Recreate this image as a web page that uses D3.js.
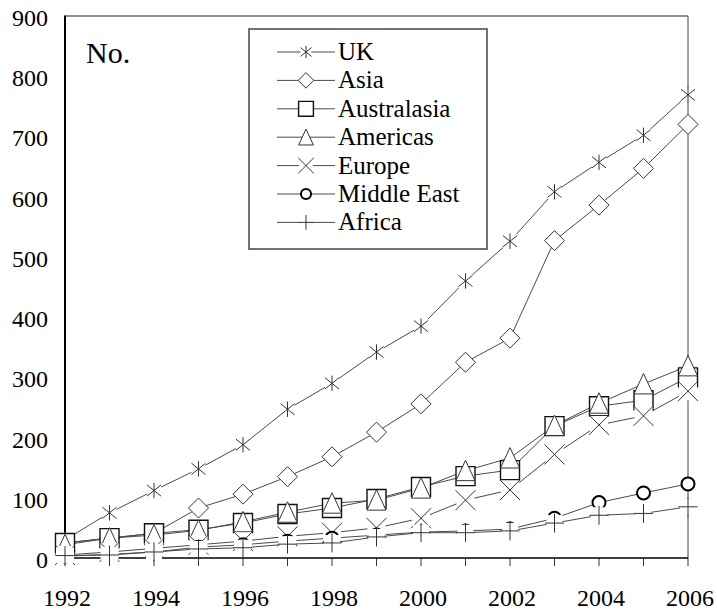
<!DOCTYPE html>
<html>
<head>
<meta charset="utf-8">
<script src="https://cdn.jsdelivr.net/npm/d3@7"></script>
<style>
body { margin: 0; background: #fff; }
</style>
</head>
<body>
<svg width="717" height="613"></svg>
<script>
var years = [1992, 1993, 1994, 1995, 1996, 1997, 1998, 1999, 2000, 2001, 2002, 2003, 2004, 2005, 2006];
var yearLabels = [1992, 1994, 1996, 1998, 2000, 2002, 2004, 2006];
var yTicks = [0, 100, 200, 300, 400, 500, 600, 700, 800, 900];

var uk          = [30, 75, 112, 148, 188, 247, 290, 342, 385, 460, 526, 608, 657, 702, 769];
var asia        = [25, 33, 41, 83, 106, 135, 168, 209, 256, 325, 365, 527, 586, 647, 720];
var australasia = [25, 33, 41, 47, 58, 73, 83, 98, 118, 136, 146, 219, 252, 262, 300];
var americas    = [22, 33, 38, 46, 60, 76, 91, 96, 116, 145, 166, 220, 257, 289, 319];
var europe      = [5, 10, 16, 22, 28, 36, 42, 50, 66, 96, 113, 172, 221, 236, 277];
var middleEast  = [3, 6, 10, 18, 22, 28, 33, 38, 43, 45, 48, 66, 92, 108, 123];
var africa      = [4, 5, 10, 15, 17, 23, 25, 35, 42, 42, 45, 58, 71, 74, 85];

var series = [
  {name: "UK", values: uk, shape: "asterisk"},
  {name: "Asia", values: asia, shape: "diamond"},
  {name: "Australasia", values: australasia, shape: "square"},
  {name: "Americas", values: americas, shape: "triangle"},
  {name: "Europe", values: europe, shape: "x"},
  {name: "Middle East", values: middleEast, shape: "circle"},
  {name: "Africa", values: africa, shape: "plus"}
];

var svg = d3.select("svg");
var serif = "'Times New Roman', 'Liberation Serif', 'DejaVu Serif', serif";
var plotLeft = 65, plotRight = 688, plotTop = 16, plotBottom = 558;

var x = d3.scaleLinear().domain([1992, 2006]).range([plotLeft, plotRight]);
var y = d3.scaleLinear().domain([0, 900]).range([plotBottom, plotTop]);

// marker outlines, h = half size
var shapes = {
  asterisk: function(h) {
    return "M0," + (-h * 1.1) + "V" + (h * 1.1) +
      "M" + (-h) + "," + (-h * 0.8) + "L" + h + "," + (h * 0.8) +
      "M" + (-h) + "," + (h * 0.8) + "L" + h + "," + (-h * 0.8);
  },
  diamond: function(h) {
    return "M0," + (-h) + "L" + h + ",0L0," + h + "L" + (-h) + ",0Z";
  },
  square: function(h) {
    return "M" + (-h) + "," + (-h) + "H" + h + "V" + h + "H" + (-h) + "Z";
  },
  triangle: function(h) {
    return "M0," + (-h * 1.1) + "L" + h + "," + (h * 1.05) + "L" + (-h) + "," + (h * 1.05) + "Z";
  },
  x: function(h) {
    return "M" + (-h) + "," + (-h) + "L" + h + "," + h + "M" + (-h) + "," + h + "L" + h + "," + (-h);
  },
  circle: function(h) {
    return "M" + h + ",0A" + h + "," + h + " 0 1,1 " + (-h) + ",0A" + h + "," + h + " 0 1,1 " + h + ",0Z";
  },
  plus: function(h) {
    return "M0," + (-h) + "V" + h + "M" + (-h) + ",0H" + h;
  }
};
var sizes = {asterisk: 7, diamond: 10, square: 9.5, triangle: 9.5, x: 10, circle: 6.5, plus: 9.5};
var halo = {asterisk: 7, x: 9, plus: 8};

function drawMarker(g, shape, k) {
  var h = sizes[shape] * k;
  if (halo[shape]) {
    var hh = halo[shape] * k;
    g.append("rect").attr("x", -hh).attr("y", -hh).attr("width", 2 * hh).attr("height", 2 * hh)
      .attr("fill", "#fff");
  }
  var p = g.append("path").attr("d", shapes[shape](h))
    .attr("fill", halo[shape] ? "none" : "#fff")
    .attr("stroke", "#333")
    .attr("stroke-width", 1);
  if (shape == "square") p.attr("stroke", "#111").attr("stroke-width", 1.4);
  if (shape == "circle") p.attr("stroke", "#000").attr("stroke-width", 2);
}

// frame
svg.append("line").attr("x1", plotLeft).attr("x2", plotRight).attr("y1", plotTop).attr("y2", plotTop)
  .attr("stroke", "#222").attr("stroke-width", 1);
svg.append("line").attr("x1", plotRight).attr("x2", plotRight).attr("y1", plotTop).attr("y2", plotBottom)
  .attr("stroke", "#444").attr("stroke-width", 1);

// x axis
svg.append("g").selectAll("line").data(years).enter().append("line")
  .attr("x1", function(d) { return x(d); }).attr("x2", function(d) { return x(d); })
  .attr("y1", plotBottom).attr("y2", plotBottom + 8)
  .attr("stroke", "#333").attr("stroke-width", 1);
svg.append("line").attr("x1", plotLeft).attr("x2", plotRight).attr("y1", plotBottom).attr("y2", plotBottom)
  .attr("stroke", "#000").attr("stroke-width", 1.5);
svg.append("line").attr("x1", plotLeft).attr("x2", plotLeft).attr("y1", plotTop - 0.5).attr("y2", plotBottom)
  .attr("stroke", "#000").attr("stroke-width", 2);

svg.append("g").selectAll("text").data(yearLabels).enter().append("text")
  .attr("x", function(d) { return x(d) + 2; })
  .attr("y", 606)
  .attr("text-anchor", "middle")
  .style("font-family", serif)
  .attr("font-size", 24)
  .text(function(d) { return d; });

svg.append("g").selectAll("text").data(yTicks).enter().append("text")
  .attr("x", 48)
  .attr("y", function(d) { return y(d) + 10; })
  .attr("text-anchor", "end")
  .style("font-family", serif)
  .attr("font-size", 24)
  .text(function(d) { return d; });

svg.append("text").attr("x", 86).attr("y", 63)
  .style("font-family", serif).attr("font-size", 30).text("No.");

// lines
var line = d3.line()
  .x(function(d, i) { return x(years[i]); })
  .y(function(d) { return y(d); });

svg.append("g").selectAll("path").data(series).enter().append("path")
  .attr("d", function(s) { return line(s.values); })
  .attr("fill", "none")
  .attr("stroke", "#4a4a4a")
  .attr("stroke-width", 1);

// markers
series.forEach(function(s) {
  s.values.forEach(function(v, i) {
    var g = svg.append("g").attr("transform", "translate(" + x(years[i]) + "," + y(v) + ")");
    drawMarker(g, s.shape, 1);
  });
});

// legend
var legend = svg.append("g");
legend.append("rect").attr("x", 249).attr("y", 29).attr("width", 238).attr("height", 220)
  .attr("fill", "#fff").attr("stroke", "#444").attr("stroke-width", 1.5);

series.forEach(function(s, i) {
  var ly = 52 + i * 28.4;
  legend.append("line").attr("x1", 277).attr("x2", 335).attr("y1", ly).attr("y2", ly)
    .attr("stroke", "#4a4a4a").attr("stroke-width", 1);
  var g = legend.append("g").attr("transform", "translate(306," + ly + ")");
  drawMarker(g, s.shape, 0.78);
  legend.append("text").attr("x", 338).attr("y", ly + 8)
    .style("font-family", serif).attr("font-size", 25).text(s.name);
});
</script>
</body>
</html>
